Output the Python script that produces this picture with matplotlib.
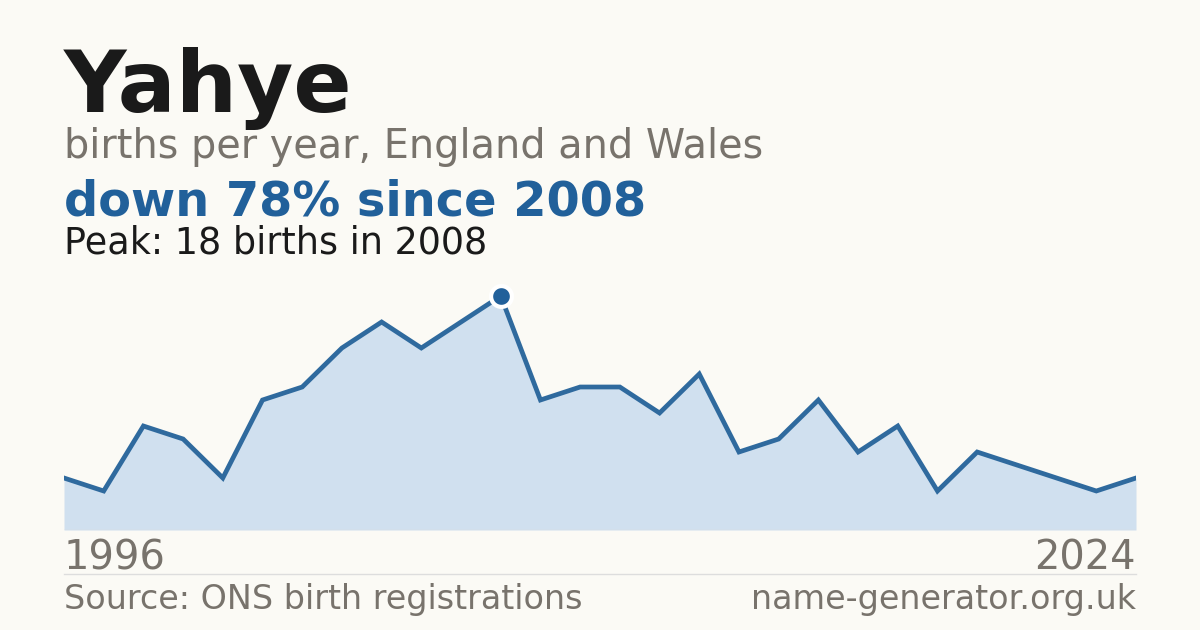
import numpy as np
import matplotlib.pyplot as plt

plt.rcParams['font.family'] = ['DejaVu Sans']

# births per year; one year is missing from the series, so points are placed by index
births = [4, 3, 8, 7, 4, 10, 11, 14, 16, 14, 16, 18, 10, 11, 11, 9, 12,
          6, 7, 10, 6, 8, 3, 6, 5, 4, 3, 4]
first_year = '1996'
last_year = '2024'
peak_index = 11

bg = '#fbfaf5'
blue = '#21609a'
grey = '#78736c'

fig = plt.figure(figsize=(12, 6.3), dpi=100)
fig.patch.set_facecolor(bg)

# axes placed so that 0 sits at y=530px and the plot spans x=64..1136px
ax = fig.add_axes([64 / 1200, 100 / 630, 1072 / 1200, 260 / 630])
ax.set_facecolor(bg)
x = np.arange(len(births))
ax.fill_between(x, births, 0, color='#d0e0ef', lw=0)
ax.plot(x, births, color='#2f6a9e', lw=3.4, solid_joinstyle='miter')
ax.axhline(0, color='#dddddd', lw=1)
ax.plot(x[peak_index], births[peak_index], 'o', ms=15, mfc=blue,
        mec='white', mew=3, zorder=5)
ax.set_xlim(0, len(births) - 1)
ax.set_ylim(0, 20)
ax.axis('off')

fig.text(64 / 1200, 1 - 112 / 630, 'Yahye', fontsize=62, fontweight='bold',
         color='#1a1a1a', va='baseline')
fig.text(64 / 1200, 1 - 158 / 630, 'births per year, England and Wales',
         fontsize=28.6, color=grey, va='baseline')
fig.text(64 / 1200, 1 - 215 / 630, 'down 78% since 2008', fontsize=34.5,
         fontweight='bold', color=blue, va='baseline')
fig.text(64 / 1200, 1 - 253 / 630, 'Peak: 18 births in 2008', fontsize=26.3,
         color='#1a1a1a', va='baseline')

fig.text(64 / 1200, 1 - 569 / 630, first_year, fontsize=28.8, color=grey,
         va='baseline')
fig.text(1136 / 1200, 1 - 569 / 630, last_year, fontsize=28.8, color=grey,
         va='baseline', ha='right')
fig.add_artist(plt.Line2D([64 / 1200, 1136 / 1200], [1 - 574 / 630] * 2,
                          color='#dddddd', lw=1))
fig.text(64 / 1200, 1 - 609 / 630, 'Source: ONS birth registrations',
         fontsize=24, color=grey, va='baseline')
fig.text(1136 / 1200, 1 - 609 / 630, 'name-generator.org.uk', fontsize=24,
         color=grey, va='baseline', ha='right')

fig.savefig('out.png', dpi=100, facecolor=bg)
